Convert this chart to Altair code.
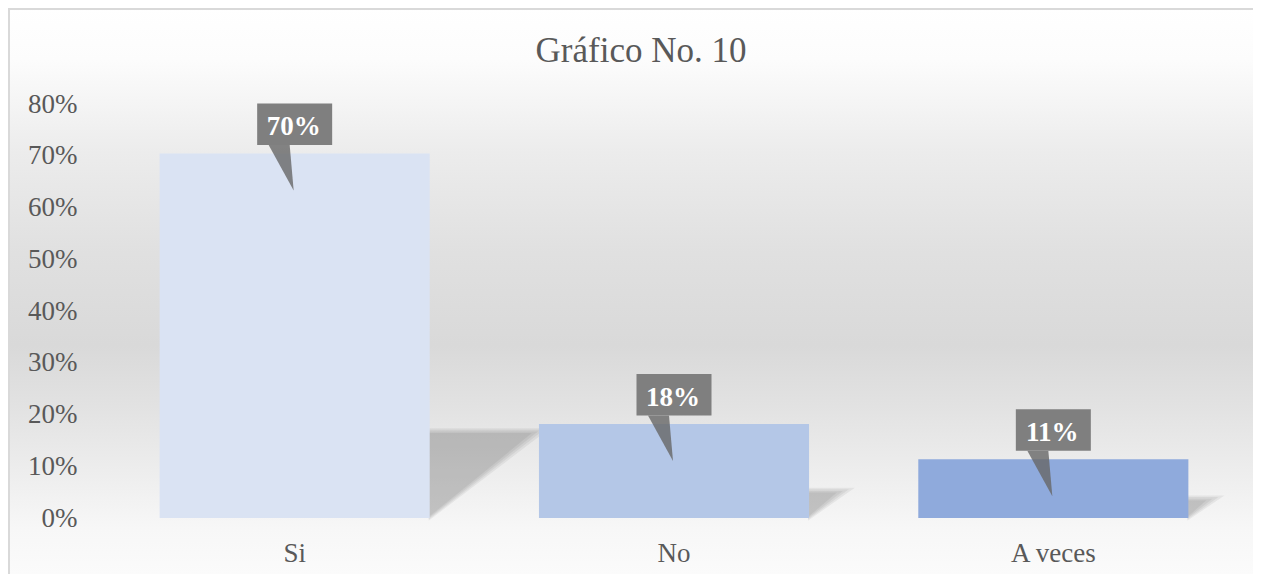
import altair as alt
import pandas as pd

# ---- data ----
categories = ["Si", "No", "A veces"]
values = [0.7045, 0.1818, 0.1136]
bar_colors = ["#dae3f3", "#b4c7e7", "#8faadc"]
y_ticks = [0.0, 0.1, 0.2, 0.3, 0.4, 0.5, 0.6, 0.7, 0.8]
title_text = "Gráfico No. 10"

# ---- layout / style ----
PLOT_W, PLOT_H = 1138, 414
Y_MAX = 0.8
FONT = "Liberation Serif"
TXT = "#595959"
px_per_unit = PLOT_H / Y_MAX
HALF_BAR = PLOT_W / 3 * (1 - 0.288) / 2

df = pd.DataFrame({"cat": categories, "val": values, "base": [0.0] * len(values)})


def shadow_path(v, grow, s=200.0):
    h = 0.22 * v * px_per_unit + 6 + grow * 0.4
    x0 = HALF_BAR - 1
    pts = [(x0, grow * 0.3), (x0, -h), (x0 + 1.25 * h + grow, -h)]
    return "M" + "L".join(f"{x / s:.4f},{y / s:.4f}" for x, y in pts) + "Z"


grows = [9, 5, 1, -3]
for i, g in enumerate(grows):
    df[f"sh{i}"] = [shadow_path(v, g) for v in values]

x_enc = alt.X("cat:N", sort=categories,
              scale=alt.Scale(paddingInner=0.288, paddingOuter=0.144),
              axis=alt.Axis(title=None, labelAngle=0, labelFont=FONT, labelFontSize=27,
                            labelColor=TXT, labelPadding=22, domain=False, ticks=False,
                            zindex=1))
y_enc = alt.Y("val:Q", scale=alt.Scale(domain=[0, Y_MAX]),
              axis=alt.Axis(title=None, values=y_ticks, format=".0%", labelFont=FONT,
                            labelFontSize=27, labelColor=TXT, labelPadding=28,
                            domain=False, ticks=False, grid=False, zindex=1))

one = pd.DataFrame({"a": [0]})
bg = alt.Chart(one).mark_rect(
    fill=alt.Gradient(
        gradient="linear", x1=0, x2=0, y1=0, y2=1,
        stops=[
            alt.GradientStop(offset=0.0, color="#ffffff"),
            alt.GradientStop(offset=0.088, color="#fcfcfc"),
            alt.GradientStop(offset=0.244, color="#ececec"),
            alt.GradientStop(offset=0.416, color="#e0e0e0"),
            alt.GradientStop(offset=0.572, color="#d9d9d9"),
            alt.GradientStop(offset=0.675, color="#e2e2e2"),
            alt.GradientStop(offset=0.813, color="#f0f0f0"),
            alt.GradientStop(offset=0.883, color="#f7f7f7"),
            alt.GradientStop(offset=1.0, color="#fdfdfd"),
        ]),
    strokeWidth=0,
).encode(x=alt.value(-97), x2=alt.value(PLOT_W + 40),
         y=alt.value(-96), y2=alt.value(PLOT_H + 80))

border_top = alt.Chart(one).mark_rule(color="#d9d9d9", strokeWidth=2).encode(
    x=alt.value(-97), x2=alt.value(PLOT_W + 40), y=alt.value(-95))
border_left = alt.Chart(one).mark_rule(color="#d9d9d9", strokeWidth=2).encode(
    x=alt.value(-96), y=alt.value(-96), y2=alt.value(PLOT_H + 80))

base = alt.Chart(df)

shadows = [
    base.mark_point(filled=True, size=160000, color="#000000", opacity=0.055,
                    strokeWidth=0).encode(
        x=x_enc, y=alt.Y("base:Q"),
        shape=alt.Shape(f"sh{i}:N", scale=None, legend=None))
    for i in range(len(grows))
]

bars = base.mark_bar().encode(
    x=x_enc, y=y_enc,
    color=alt.Color("cat:N", scale=alt.Scale(domain=categories, range=bar_colors),
                    legend=None))

pointer = base.mark_point(filled=True, size=10000, color="#666666", opacity=0.8,
                          strokeWidth=0,
                          shape="M-0.52,-0.17L-0.10,-0.17L-0.02,0.74Z").encode(
    x=x_enc, y=alt.Y("val:Q"))
box = base.mark_point(filled=True, size=10000, color="#7f7f7f", opacity=1,
                      strokeWidth=0,
                      shape="M-0.75,-1L0.75,-1L0.75,-0.17L-0.75,-0.17Z").encode(
    x=x_enc, y=alt.Y("val:Q"))
labels = base.mark_text(font=FONT, fontSize=27, fontWeight="bold", color="#ffffff",
                        baseline="alphabetic", align="center", dy=-18, dx=-1).encode(
    x=x_enc, y=alt.Y("val:Q"), text=alt.Text("val:Q", format=".0%"))

title = alt.Chart(pd.DataFrame({"t": [title_text]})).mark_text(
    font=FONT, fontSize=35, color=TXT, baseline="alphabetic", align="center").encode(
    x=alt.value(536), y=alt.value(-42), text="t:N")

chart = alt.layer(bg, border_top, border_left, *shadows, bars, pointer, box, labels,
                  title).properties(
    width=PLOT_W, height=PLOT_H,
    autosize=alt.AutoSizeParams(type="none"),
    padding={"left": 97, "top": 96, "right": 10, "bottom": 56},
).configure_view(stroke=None)

chart.save("out.html", embed_options={"renderer": "svg", "actions": False})
